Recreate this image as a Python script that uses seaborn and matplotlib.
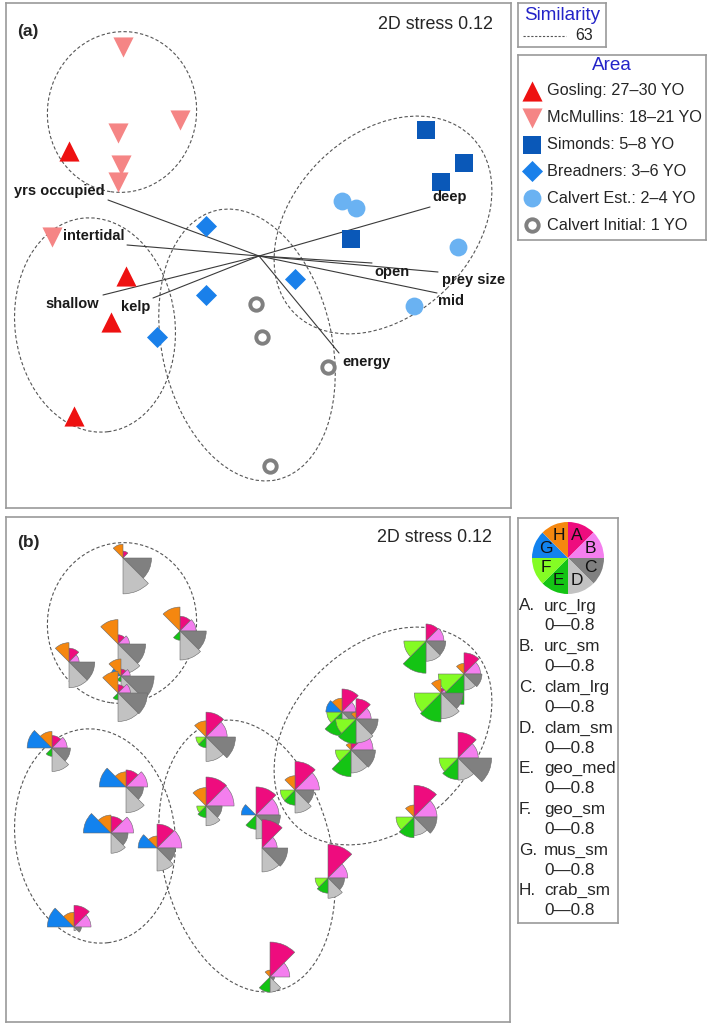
import numpy as np
import pandas as pd
import matplotlib
matplotlib.use("Agg")
import matplotlib.pyplot as plt
import seaborn as sns
from matplotlib.patches import Ellipse, Wedge

sns.set_theme(style="white")
plt.rcParams['font.family'] = ['Liberation Sans', 'DejaVu Sans']

# ---------------- data ----------------
areas = ["Gosling: 27–30 YO", "McMullins: 18–21 YO", "Simonds: 5–8 YO",
         "Breadners: 3–6 YO", "Calvert Est.: 2–4 YO", "Calvert Initial: 1 YO"]
sample_area = ([areas[0]] * 4 + [areas[1]] * 6 + [areas[2]] * 4 +
               [areas[3]] * 4 + [areas[4]] * 4 + [areas[5]] * 4)
mds1 = [-1.90, -1.33, -1.48, -1.85,
        -1.36, -0.79, -1.41, -1.38, -1.41, -2.07,
        1.67, 2.05, 1.82, 0.92,
        -0.53, 0.36, -0.53, -1.02,
        0.83, 0.97, 1.99, 1.55,
        -0.03, 0.03, 0.69, 0.11]
mds2 = [1.05, -0.20, -0.66, -1.60,
        2.09, 1.36, 1.23, 0.91, 0.74, 0.19,
        1.26, 0.93, 0.74, 0.17,
        0.30, -0.23, -0.39, -0.81,
        0.55, 0.48, 0.09, -0.50,
        -0.48, -0.81, -1.11, -2.10]

vec_labels = ["yrs occupied", "intertidal", "shallow", "kelp", "deep",
              "open", "prey size", "mid", "energy"]
vec_x = [-1.51, -1.32, -1.56, -1.06, 1.71, 1.13, 1.79, 1.78, 0.80]
vec_y = [0.56, 0.11, -0.39, -0.42, 0.49, -0.07, -0.16, -0.37, -0.97]

# similarity 63 contours
ell_cx = [-1.37, -1.64, -0.12, 1.24]
ell_cy = [1.44, -0.69, -0.89, 0.31]
ell_w = [1.49, 1.60, 1.70, 2.50]
ell_h = [1.61, 2.15, 2.76, 1.80]
ell_ang = [-8, 7, 12.6, 45]
similarity_level = "63"
stress_text = "2D stress 0.12"

# prey variables (segment plot), order A..H
prey_names = ["urc_lrg", "urc_sm", "clam_lrg", "clam_sm", "geo_med", "geo_sm", "mus_sm", "crab_sm"]
prey_letters = ["A", "B", "C", "D", "E", "F", "G", "H"]
prey_range = "0\u20140.8"
urc_lrg = [.30, .37, .36, .47, .15, .32, .20, .15, .18, .27, .37, .46, .10, .20,
           .54, .62, .63, .52, .50, .44, .56, .69, .61, .62, .73, .76]
urc_sm = [.22, .47, .49, .37, 0, .35, .25, .20, .27, .33, .39, .36, .10, .48,
          .46, .53, .61, .54, .30, .33, .44, .50, .50, .33, .43, .43]
clam_lrg = [.56, .38, .37, .16, .62, .57, .60, .72, .64, .40, .43, .39, .48, .53,
            .64, .41, .35, .40, .35, .48, .73, .50, .53, .56, .36, .10]
clam_sm = [.56, .56, .44, .08, .78, .63, .67, .70, .62, .51, .44, .35, .56, .50,
           .53, .50, .43, .50, .35, .52, .48, .40, .52, .52, .44, .33]
geo_med = [0, 0, 0, 0, 0, .20, 0, .12, .15, .18, .70, .66, .63, .58,
           .23, .33, .25, 0, .52, .54, .47, .45, .31, 0, .33, .33]
geo_sm = [0, 0, 0, 0, 0, 0, 0, 0, 0, 0, .48, .56, .58, .34,
          .22, .32, .20, 0, .33, .44, .41, .39, 0, 0, .28, 0]
mus_sm = [0, .58, .60, .58, 0, 0, 0, .22, 0, .54, 0, 0, 0, 0,
          0, 0, 0, .41, .35, 0, 0, 0, .32, 0, 0, 0]
crab_sm = [.42, .33, .39, .32, .30, .52, .53, .37, .47, .36, 0, .23, .29, .15,
           .35, .31, .40, .26, .30, .15, 0, .26, 0, 0, 0, .15]
prey_values = [urc_lrg, urc_sm, clam_lrg, clam_sm, geo_med, geo_sm, mus_sm, crab_sm]

# ---------------- styles ----------------
area_style = {
    areas[0]: dict(marker="^", s=210, face="#EE1111", edge="#EE1111", lw=0),
    areas[1]: dict(marker="v", s=210, face="#F58585", edge="#F58585", lw=0),
    areas[2]: dict(marker="s", s=165, face="#0A58B8", edge="#0A58B8", lw=0),
    areas[3]: dict(marker="D", s=115, face="#1A80EA", edge="#1A80EA", lw=0),
    areas[4]: dict(marker="o", s=165, face="#6AB2F2", edge="#6AB2F2", lw=0),
    areas[5]: dict(marker="o", s=80, face="white", edge="#808080", lw=2.8),
}
seg_colors = ["#EE0C7E", "#F47EEE", "#808080", "#C2C2C2", "#14C414", "#84FC24", "#1282EE", "#F5870F"]
seg_scale = 0.46  # data units per unit value
title_blue = "#2424C8"
frame_col = "#9a9a9a"
W, H = 709, 1027

fig = plt.figure(figsize=(W / 100, H / 100), dpi=100)


def fig_axes(x0, y0, x1, y1):
    return fig.add_axes([x0 / W, 1 - y1 / H, (x1 - x0) / W, (y1 - y0) / H])


def style_frame(ax):
    ax.set_xticks([])
    ax.set_yticks([])
    ax.set_xlabel("")
    ax.set_ylabel("")
    for sp in ax.spines.values():
        sp.set_visible(True)
        sp.set_color(frame_col)
        sp.set_linewidth(1.2)


def draw_ellipses(ax):
    for cx, cy, w, h, a in zip(ell_cx, ell_cy, ell_w, ell_h, ell_ang):
        ax.add_patch(Ellipse((cx, cy), w, h, angle=a, fill=False, edgecolor="#555555",
                             linewidth=0.8, linestyle=(0, (3, 2)), zorder=1))


df = pd.DataFrame({"MDS1": mds1, "MDS2": mds2, "Area": sample_area})

# ---------------- panel (a) ----------------
axA = fig_axes(6, 3, 511, 508)
axA.set_xlim(-2.53, 2.52)
axA.set_ylim(-2.52, 2.53)
draw_ellipses(axA)
label_off = {"yrs occupied": (-0.03, 0.09, "right"), "intertidal": (-0.03, 0.09, "right"),
             "shallow": (-0.04, -0.09, "right"), "kelp": (-0.03, -0.09, "right"),
             "deep": (0.02, 0.10, "left"), "open": (0.02, -0.09, "left"),
             "prey size": (0.04, -0.08, "left"), "mid": (0.01, -0.08, "left"),
             "energy": (0.03, -0.09, "left")}
for lab, vx, vy in zip(vec_labels, vec_x, vec_y):
    axA.plot([0, vx], [0, vy], color="#3a3a3a", linewidth=0.8, zorder=2)
for name in areas:
    st = area_style[name]
    sub = df[df["Area"] == name]
    sns.scatterplot(data=sub, x="MDS1", y="MDS2", ax=axA, marker=st["marker"], s=st["s"],
                    color=st["face"], edgecolor=st["edge"], linewidth=st["lw"],
                    legend=False, zorder=3)
for lab, vx, vy in zip(vec_labels, vec_x, vec_y):
    dx, dy, ha = label_off[lab]
    axA.text(vx + dx, vy + dy, lab, ha=ha, va="center", fontsize=10.5,
             fontweight="bold", color="#1a1a1a", zorder=4)
style_frame(axA)
axA.set_xlim(-2.53, 2.52)
axA.set_ylim(-2.52, 2.53)
axA.text(0.022, 0.943, "(a)", transform=axA.transAxes, fontsize=12.5,
         fontweight="bold", ha="left", va="center")
axA.text(0.964, 0.958, stress_text, transform=axA.transAxes, fontsize=12.9,
         ha="right", va="center")

# ---------------- panel (b) ----------------
axB = fig_axes(6, 517, 510, 1022)
draw_ellipses(axB)
for i in range(len(mds1)):
    cx, cy = mds1[i], mds2[i]
    for k in range(8):
        v = prey_values[k][i]
        if v <= 0:
            continue
        t2 = 90 - 45 * k
        t1 = t2 - 45
        axB.add_patch(Wedge((cx, cy), v * seg_scale, t1, t2, facecolor=seg_colors[k],
                            edgecolor="#6a6a6a", linewidth=0.4, zorder=3 + i * 0.01))
style_frame(axB)
axB.set_xlim(-2.53, 2.51)
axB.set_ylim(-2.55, 2.50)
axB.text(0.022, 0.949, "(b)", transform=axB.transAxes, fontsize=12.5,
         fontweight="bold", ha="left", va="center")
axB.text(0.964, 0.960, stress_text, transform=axB.transAxes, fontsize=12.9,
         ha="right", va="center")

# ---------------- Similarity box ----------------
axS = fig_axes(518, 3, 606, 47)
axS.set_xlim(518, 606)
axS.set_ylim(47, 3)
style_frame(axS)
axS.text(562, 16, "Similarity", color=title_blue, fontsize=13.6, ha="center", va="center")
axS.plot([523, 566], [36, 36], color="#555555", linewidth=0.8, linestyle=(0, (2, 1.5)))
axS.text(575, 36, similarity_level, fontsize=11.5, ha="left", va="center")

# ---------------- Area legend box ----------------
axL = fig_axes(518, 55, 706, 240)
axL.set_xlim(518, 706)
axL.set_ylim(240, 55)
style_frame(axL)
axL.text(612, 66, "Area", color=title_blue, fontsize=13.6, ha="center", va="center")
for j, name in enumerate(areas):
    st = area_style[name]
    yy = 91 + 26.8 * j
    axL.scatter([532], [yy], marker=st["marker"], s=st["s"], c=st["face"],
                edgecolors=st["edge"], linewidths=st["lw"])
    axL.text(547, yy, name, fontsize=11.7, ha="left", va="center")

# ---------------- segment key box ----------------
axK = fig_axes(518, 518, 618, 923)
axK.set_xlim(0, 100)
axK.set_ylim(0, 405)
style_frame(axK)
pcx, pcy, pr = 50, 405 - 40, 36
for k in range(8):
    t2 = 90 - 45 * k
    t1 = t2 - 45
    axK.add_patch(Wedge((pcx, pcy), pr, t1, t2, facecolor=seg_colors[k],
                        edgecolor="none", linewidth=0))
    mid = np.deg2rad((t1 + t2) / 2)
    axK.text(pcx + 24 * np.cos(mid), pcy + 24 * np.sin(mid), prey_letters[k],
             fontsize=12.5, ha="center", va="center", color="#111111")
for k in range(8):
    yy = 405 - (88 + 40.7 * k)
    axK.text(1, yy, prey_letters[k] + ".", fontsize=12.3, ha="left", va="center")
    axK.text(26, yy, prey_names[k], fontsize=12.3, ha="left", va="center")
    axK.text(26, yy - 20, prey_range, fontsize=12.3, ha="left", va="center")

fig.savefig("out.png", dpi=100)
